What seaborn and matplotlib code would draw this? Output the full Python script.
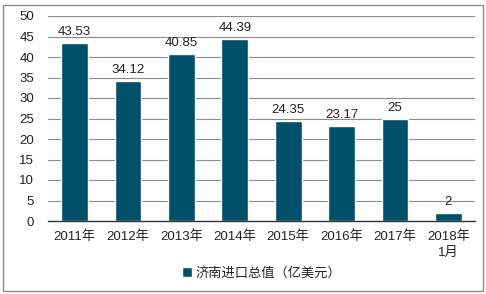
import matplotlib
matplotlib.use("Agg")
import matplotlib.pyplot as plt
import seaborn as sns
import pandas as pd
from matplotlib.patches import Rectangle

categories = ["2011年", "2012年", "2013年", "2014年", "2015年", "2016年", "2017年", "2018年\n1月"]
values = [43.53, 34.12, 40.85, 44.39, 24.35, 23.17, 25, 2]
labels = ["43.53", "34.12", "40.85", "44.39", "24.35", "23.17", "25", "2"]
series_name = "济南进口总值（亿美元）"

sns.set_theme(style="white")
plt.rcParams['font.family'] = ['Liberation Sans', 'Noto Sans CJK SC', 'DejaVu Sans']

df = pd.DataFrame({"cat": categories, "val": values})
color = "#00506A"

fig = plt.figure(figsize=(4.86, 2.94), dpi=100)
ax = fig.add_axes([48/486, 1-221/294, (475-48)/486, (221-16)/294])
sns.barplot(data=df, x="cat", y="val", color=color, width=0.5, ax=ax,
            saturation=1, label=series_name)
ax.set_ylim(0, 50)
ax.set_xlim(-0.5, len(categories)-0.5)
ax.set_yticks(range(0, 51, 5))
ax.yaxis.grid(True, color="#8c8c8c", linewidth=0.8)
ax.set_axisbelow(True)
for s in ["top", "right", "left"]:
    ax.spines[s].set_visible(False)
ax.spines["bottom"].set_color("#333333")
ax.spines["bottom"].set_linewidth(1.0)
ax.set_xlabel("")
ax.set_ylabel("")
ax.tick_params(axis="both", labelsize=9.5, colors="#222222", length=0)
ax.tick_params(axis="x", pad=7)
ax.tick_params(axis="y", pad=10)
for lab in ax.get_xticklabels():
    lab.set_linespacing(1.35)
for i, (v, t) in enumerate(zip(values, labels)):
    ax.text(i, v + 1.2, t, ha="center", va="bottom", fontsize=9.5, color="#222222")

leg = ax.legend(loc="upper center", bbox_to_anchor=(0.5, -0.165), frameon=False,
                fontsize=9.5, handlelength=0.75, handleheight=0.75, handletextpad=0.3)

fig.patches.append(Rectangle((3/486, 3/294), 480/486, 286/294, transform=fig.transFigure,
                             fill=False, edgecolor="#8c8c8c", linewidth=1))
fig.savefig("out.png", dpi=100)
